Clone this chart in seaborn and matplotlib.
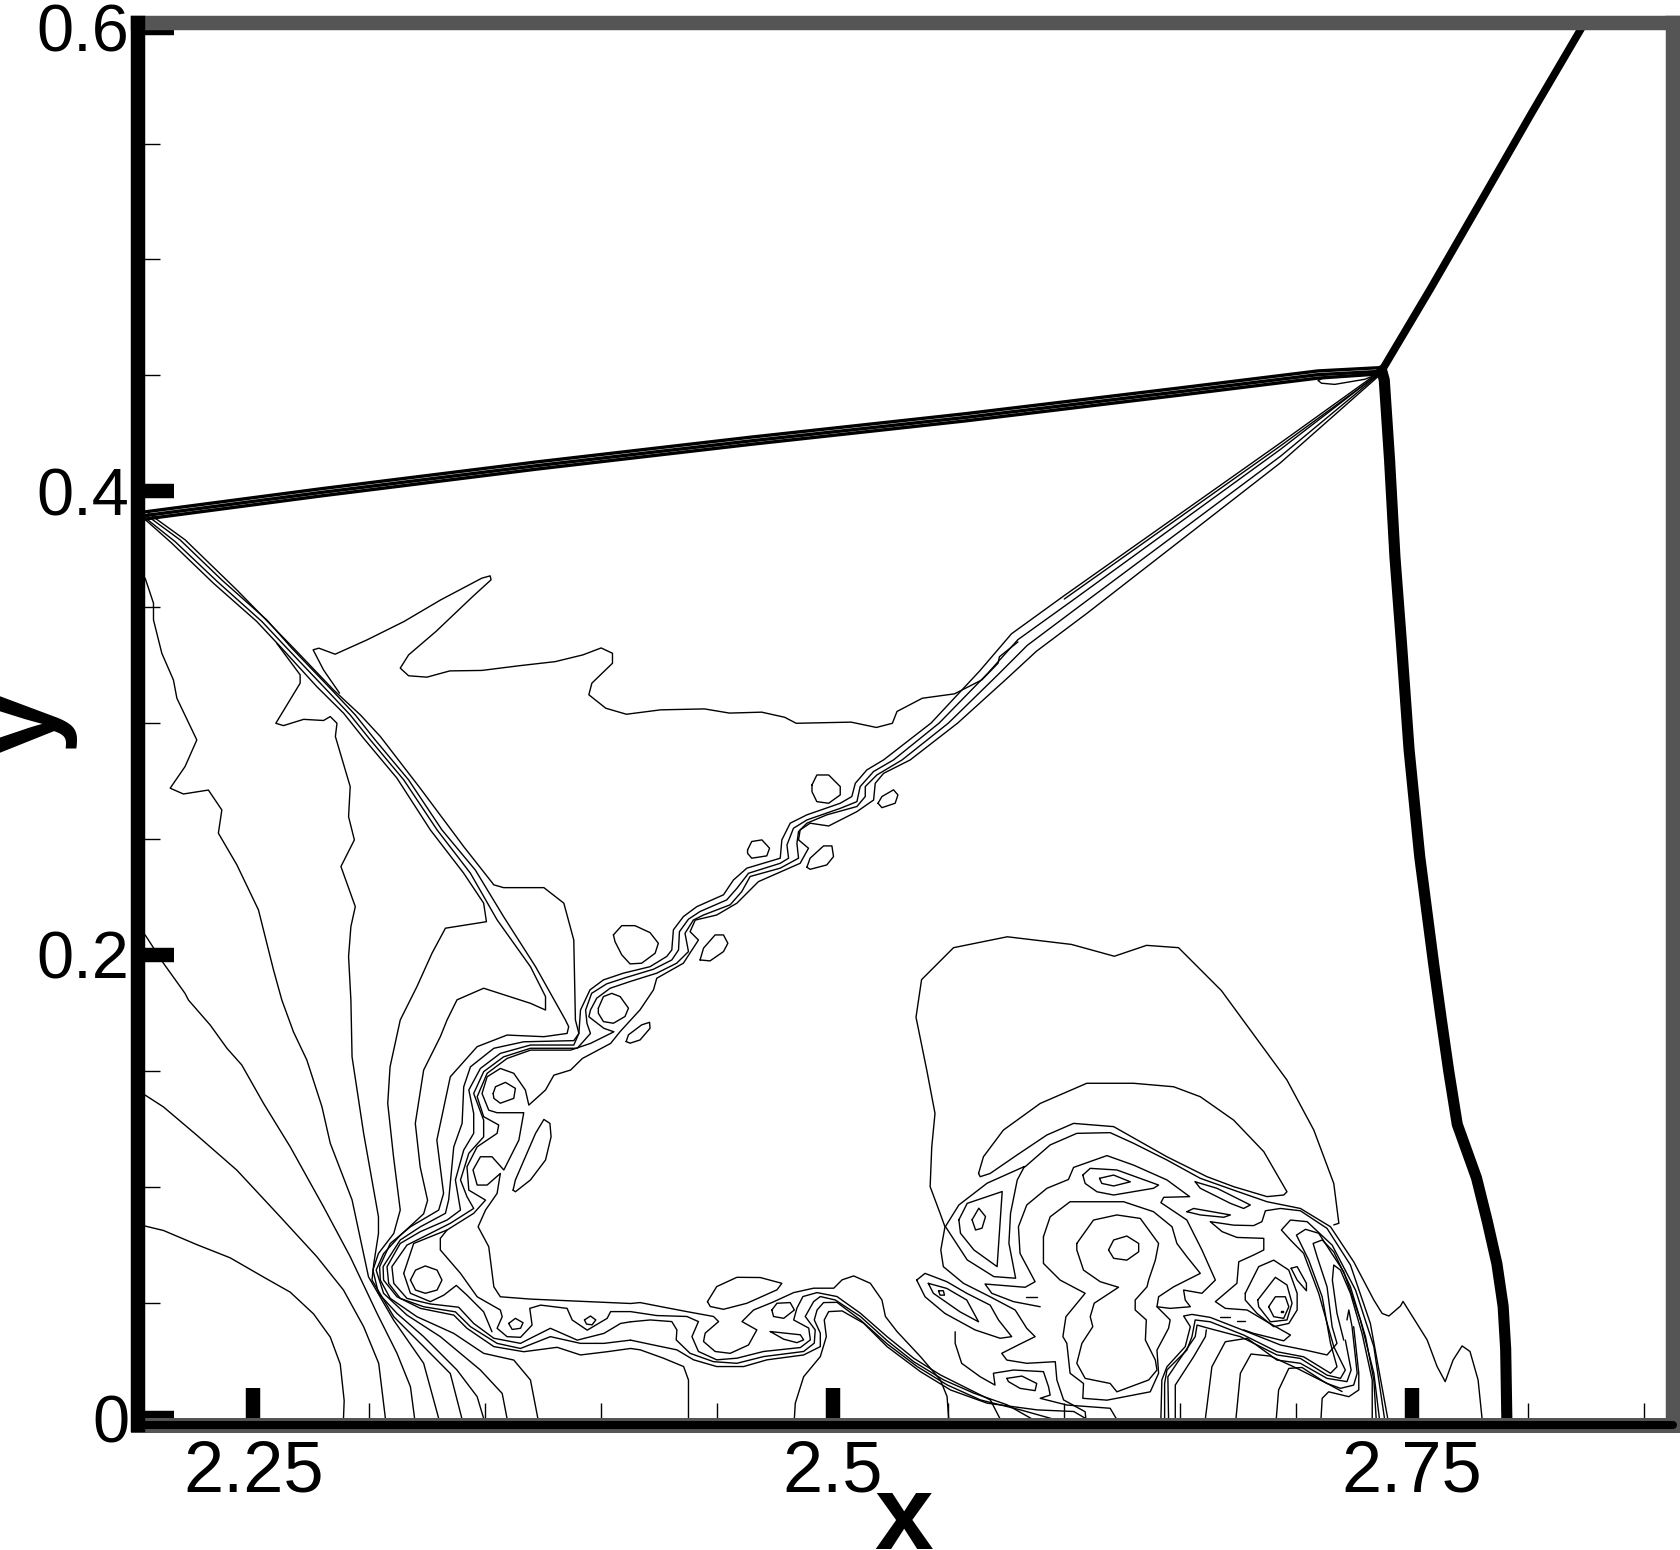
import pandas as pd
import matplotlib
matplotlib.use('Agg')
import matplotlib.pyplot as plt
import seaborn as sns

# contour levels, every curve is a list of (x, y)
x_major = [2.25, 2.5, 2.75]
x_major_labels = ['2.25', '2.5', '2.75']
x_minor = [2.3, 2.35, 2.4, 2.45, 2.55, 2.6, 2.65, 2.7, 2.8, 2.85]
y_major = [0, 0.2, 0.4, 0.6]
y_major_labels = ['0', '0.2', '0.4', '0.6']
y_minor = [0.05, 0.1, 0.15, 0.25, 0.3, 0.35, 0.45, 0.5, 0.55]

# fan at the left
fan_1 = [(2.2033,.083),(2.2112,.0811),(2.2256,.075),(2.24,.0693),(2.2544,.061),(2.2659,.0545),(2.276,.0451),(2.2832,.0351),(2.2875,.0235),(2.2892,.0077),(2.2889,0)]
fan_2 = [(2.2033,.1395),(2.2112,.1344),(2.2256,.1222),(2.2429,.1071),(2.2616,.087),(2.2774,.0698),(2.2889,.0554),(2.2976,.0396),(2.3041,.0238),(2.307,0)]
fan_3 = [(2.2033,.2086),(2.2112,.1964),(2.2205,.1834),(2.222,.1805),(2.2314,.1697),(2.2386,.1597),(2.245,.1525),(2.2544,.1359),(2.2659,.1172),(2.2803,.0913),(2.2918,.0698),(2.3034,.0453),(2.312,.0281),(2.3178,.0137),(2.3196,0)]
fan_4 = [(2.2033,.3625),(2.2069,.3517),(2.2069,.3445),(2.2105,.3301),(2.2155,.3186),(2.217,.3107),(2.2256,.2927),(2.2205,.2812),(2.2141,.2719),(2.2198,.2694),(2.2306,.2711),(2.2364,.2625),(2.2349,.2525),(2.2429,.2388),(2.2522,.2194),(2.2587,.1935),(2.2623,.1805),(2.2673,.1668),(2.2731,.1546),(2.2796,.1345),(2.2832,.1187),(2.2926,.0943),(2.2997,.0611),(2.3105,.0425),(2.3235,.0238),(2.33,0)]
fan_5 = [(2.2601,.3344),(2.2702,.3208),(2.2702,.3172),(2.2597,.2999),(2.263,.2989),(2.2717,.3016),(2.2803,.3011),(2.2832,.3028),(2.2861,.2999),(2.2854,.2942),(2.2918,.2726),(2.2911,.2596),(2.2936,.2496),(2.2878,.2381),(2.294,.2208),(2.2921,.2122),(2.2911,.1993),(2.2921,.1805),(2.2926,.156),(2.2976,.123),(2.304,.087),(2.304,.0798),(2.302,.0669),(2.3012,.0597),(2.3106,.0439),(2.3235,.031),(2.335,.0194),(2.34,0)]

# lines of the left shock that carry on around the pinch
line_a1 = [(2.2015,.3894),(2.2148,.3776),(2.2328,.3603),(2.2515,.3438),(2.2616,.333),(2.2774,.3157),(2.289,.3042),(2.2976,.2934),(2.312,.2762),(2.3264,.2539),(2.3408,.2352),(2.3494,.2223),(2.3506,.2143),(2.3329,.2115),(2.3271,.2007),(2.3206,.1863),(2.3134,.1719),(2.309,.1517),(2.308,.1359),(2.3105,.1129),(2.3134,.0899),(2.3106,.0798),(2.304,.0712),(2.3016,.064),(2.304,.054),(2.312,.0453),(2.3235,.0353),(2.3379,.0209),(2.3466,.0094),(2.3494,0)]
line_a2 = [(2.2026,.3891),(2.2162,.3783),(2.2345,.361),(2.2537,.3438),(2.2645,.3323),(2.2803,.3157),(2.2918,.3035),(2.3005,.2927),(2.3149,.2755),(2.3293,.2539),(2.3437,.2352),(2.3552,.2151),(2.3696,.1949),(2.3761,.182),(2.3761,.1762),(2.3696,.1791),(2.3494,.1856),(2.3379,.1806),(2.3336,.1719),(2.3307,.1647),(2.3235,.1503),(2.3199,.1273),(2.322,.1085),(2.3252,.0941),(2.3235,.0883),(2.3134,.079),(2.3062,.0711),(2.303,.064),(2.3062,.054),(2.3163,.0446),(2.3307,.0353),(2.348,.0209),(2.3574,.0108),(2.3595,0)]
line_a3 = [(2.2037,.3898),(2.2184,.379),(2.2364,.3617),(2.2558,.3445),(2.2666,.3323),(2.2825,.3157),(2.294,.3035),(2.3026,.2927),(2.317,.2755),(2.3314,.2539),(2.3458,.2366),(2.358,.2165),(2.3718,.1949),(2.3847,.1719),(2.3861,.169),(2.3854,.1661),(2.3754,.1647),(2.3595,.1654),(2.3466,.1604),(2.335,.1474),(2.3292,.1201),(2.3321,.0971),(2.33,.0899),(2.3178,.0827),(2.3091,.0755),(2.3045,.0655),(2.3048,.0597),(2.3091,.0518),(2.3206,.0439),(2.3365,.0367),(2.3494,.0281),(2.3624,.0252),(2.3696,.0166),(2.3728,0)]
line_a4 = [(2.2047,.3905),(2.2206,.379),(2.2429,.3574),(2.2674,.3323),(2.2846,.3143),(2.2962,.3035),(2.3048,.2942),(2.322,.2719),(2.3408,.2467),(2.3538,.2302),(2.358,.229),(2.3754,.229),(2.384,.2223),(2.3883,.2064),(2.389,.1719),(2.3905,.1661),(2.3883,.163),(2.3667,.1625),(2.3538,.1597),(2.3437,.1517),(2.3408,.1431),(2.3401,.1273),(2.3365,.1172),(2.3343,.0943),(2.3329,.0885),(2.3221,.0827),(2.3134,.077),(2.306,.0655),(2.3062,.0597),(2.312,.0525),(2.3221,.0475),(2.3365,.0446),(2.3422,.0389),(2.3538,.031),(2.3667,.0288),(2.3811,.0307),(2.3912,.0274),(2.4027,.0288),(2.4128,.0302),(2.417,.0296),(2.427,.026),(2.4357,.0224),(2.4378,.0166),(2.4378,0)]

# wavy slip line, running from the lower arm up to the triple point
wave_1 = [(2.4128,.0338),(2.4013,.0324),(2.3912,.0324),(2.3782,.0353),(2.3653,.0302),(2.3552,.0324),(2.3437,.0396),(2.3372,.046),(2.3235,.0482),(2.3134,.0518),(2.3084,.0583),(2.3077,.0655),(2.3134,.0755),(2.3221,.0806),(2.3336,.0856),(2.3394,.0899),(2.3372,.1029),(2.3408,.1158),(2.3451,.123),(2.3451,.1316),(2.343,.1417),(2.348,.151),(2.3566,.1575),(2.3696,.1611),(2.3883,.1611),(2.3905,.1661),(2.3912,.1762),(2.3953,.1849),(2.4011,.1892),(2.4097,.1921),(2.4212,.1949),(2.4284,.1993),(2.4306,.2021),(2.4313,.2108),(2.4356,.2165),(2.4414,.2208),(2.4529,.2259),(2.4572,.2323),(2.463,.2374),(2.4774,.2417),(2.4781,.2496),(2.4817,.2568),(2.4889,.2604),(2.5033,.2654),(2.5083,.2683),(2.5098,.274),(2.5148,.2798),(2.522,.2841),(2.5425,.3),(2.5635,.3225),(2.5772,.3385),(2.6,.355),(2.6932,.4208),(2.736,.4515)]
wave_2 = [(2.4128,.0417),(2.4085,.041),(2.4013,.0367),(2.3898,.0338),(2.3782,.0389),(2.371,.0353),(2.3653,.0324),(2.3538,.0346),(2.3451,.041),(2.3386,.048),(2.3264,.0494),(2.3163,.0518),(2.3106,.0583),(2.3098,.0655),(2.3163,.0748),(2.3235,.0784),(2.335,.0842),(2.3451,.0906),(2.3422,.0957),(2.3394,.1029),(2.343,.1144),(2.3494,.1215),(2.3494,.1287),(2.3451,.1402),(2.3494,.1496),(2.358,.156),(2.3696,.1597),(2.3898,.1597),(2.3955,.1661),(2.394,.1704),(2.3934,.1762),(2.396,.1834),(2.4025,.1875),(2.4111,.1903),(2.4227,.1938),(2.4306,.1978),(2.4335,.2021),(2.4339,.21),(2.4378,.2154),(2.4428,.2187),(2.4543,.2237),(2.4587,.2287),(2.4637,.2352),(2.4774,.2395),(2.481,.2417),(2.4803,.2474),(2.4831,.2546),(2.4889,.2582),(2.5033,.2632),(2.5105,.2661),(2.5119,.2726),(2.5177,.2791),(2.5263,.2841),(2.546,.3),(2.567,.3215),(2.58,.336),(2.603,.3525),(2.6932,.418),(2.736,.451)]
wave_3 = [(2.3149,.0626),(2.3178,.054),(2.3264,.0504),(2.3322,.0532),(2.3376,.0574),(2.3422,.0532),(2.3494,.046),(2.353,.0374)]
wave_3b = [(2.3149,.0626),(2.3192,.0755),(2.3336,.0813),(2.3451,.0885),(2.3502,.0942),(2.343,.0985),(2.3422,.1086),(2.3466,.1172),(2.3552,.123),(2.3559,.1266),(2.3494,.1302),(2.3466,.1388),(2.3509,.1489),(2.3595,.1553),(2.3696,.1589),(2.3869,.1589),(2.3955,.1618),(2.4056,.1668),(2.4013,.1683),(2.3948,.1733),(2.3955,.1762),(2.3982,.1813),(2.404,.1856),(2.4126,.1885),(2.4241,.1921),(2.4327,.1964),(2.4378,.2014),(2.4363,.2093),(2.4399,.215),(2.4443,.2172),(2.4558,.2216),(2.4608,.2273),(2.4644,.2338),(2.4774,.2374),(2.4853,.2417),(2.4846,.2481),(2.4853,.2532),(2.4889,.2568),(2.4975,.2604),(2.5105,.264),(2.5141,.2683),(2.5141,.2726),(2.5191,.2776),(2.53,.2841),(2.55,.3),(2.571,.3205),(2.584,.3335),(2.606,.35),(2.6932,.415),(2.736,.4505)]
wave_4 = [(2.736,.45),(2.6932,.4122),(2.61,.3475),(2.588,.331),(2.575,.319),(2.554,.3),(2.5335,.2841),(2.522,.2783),(2.5184,.274),(2.5177,.2668),(2.5105,.2618),(2.4983,.2556),(2.4903,.2568),(2.486,.2539),(2.4853,.2496),(2.4896,.246),(2.486,.2395),(2.468,.2316),(2.4587,.2223),(2.45,.2172),(2.4407,.215),(2.4385,.21),(2.4421,.2064),(2.4356,.1964),(2.4241,.1899),(2.4227,.1849),(2.4169,.1763),(2.4083,.1669),(2.4042,.1618),(2.392,.1553),(2.3869,.1503),(2.3797,.1481),(2.3761,.1417),(2.3689,.1352),(2.3674,.1417),(2.3624,.1489),(2.3566,.151),(2.3509,.1474),(2.3487,.1402),(2.3516,.133),(2.3552,.1319),(2.3667,.1319),(2.3646,.1201),(2.3581,.1072),(2.353,.1129),(2.348,.1129),(2.3448,.1072),(2.3466,.1007),(2.3509,.1007),(2.3566,.1057),(2.3552,.0971),(2.3502,.0899),(2.347,.0827),(2.3516,.0741),(2.3538,.0568),(2.3566,.0525),(2.3696,.0515),(2.4128,.0496),(2.4169,.05),(2.4256,.0483),(2.4371,.0461),(2.4486,.044),(2.4508,.0418),(2.445,.0368),(2.4443,.0332),(2.4493,.0289),(2.4558,.0281),(2.4637,.0317),(2.4673,.0382),(2.4609,.0418),(2.4659,.0468),(2.4738,.05),(2.4832,.0543),(2.4918,.0562),(2.5005,.0562),(2.5041,.0598),(2.5091,.0615),(2.5163,.0583),(2.5213,.0511),(2.5228,.044),(2.5278,.0375),(2.5379,.0267),(2.5465,.0166),(2.5494,.0095),(2.5501,0)]
wave_5 = [(2.6,.3535),(2.6932,.4195),(2.736,.4508)]

lobes = [(2.3336,.0813),(2.3307,.0777),(2.3307,.0727),(2.3394,.0626),(2.3466,.0525),(2.3566,.0468),(2.3574,.0439),(2.3552,.0389),(2.3595,.0353),(2.3653,.035),(2.3703,.0403),(2.3693,.0475),(2.374,.0489),(2.3854,.0475),(2.3876,.0425),(2.3941,.0381),(2.4027,.0432),(2.4042,.0461),(2.4128,.0461),(2.4241,.0444),(2.4371,.044),(2.4421,.0418),(2.4393,.0353),(2.4421,.0289),(2.45,.0253),(2.4587,.026),(2.4702,.0289),(2.4861,.0306),(2.4904,.0339),(2.4897,.039),(2.4832,.0425),(2.4846,.0476),(2.4872,.0526),(2.4933,.0543),(2.5019,.0526),(2.512,.0454),(2.5235,.0353),(2.535,.026),(2.5465,.0188),(2.5595,.0123),(2.5681,.008),(2.5722,0)]
ridge_3 = [(2.4128,.0417),(2.4213,.0425),(2.4306,.0418),(2.4328,.0382),(2.4325,.0339),(2.4385,.0281),(2.4486,.0245),(2.4587,.0238),(2.4702,.0267),(2.4875,.0289),(2.4921,.0325),(2.4925,.0382),(2.4882,.044),(2.4918,.0504),(2.4947,.0526),(2.5012,.0511),(2.512,.044),(2.5235,.0336),(2.535,.0245),(2.548,.0166),(2.561,.0109),(2.5753,.0059),(2.5857,0)]
ridge_4 = [(2.4128,.0338),(2.4227,.0317),(2.4328,.0296),(2.44,.0253),(2.45,.0224),(2.4616,.0224),(2.4717,.0253),(2.4875,.0274),(2.4947,.031),(2.4947,.0368),(2.4921,.0425),(2.4933,.0468),(2.4961,.05),(2.5019,.0501),(2.512,.0425),(2.5235,.0322),(2.5365,.0224),(2.5494,.0145),(2.5638,.008),(2.5811,.0037),(2.5943,0)]
ridge_5 = [(2.4835,0),(2.4839,.0066),(2.4875,.018),(2.4947,.0267),(2.4973,.0353),(2.4964,.0425),(2.4983,.0461),(2.5041,.0464),(2.5134,.0411),(2.5235,.031),(2.5379,.0202),(2.5509,.0123),(2.5667,.0066),(2.5883,.0037),(2.6041,.003),(2.6092,0)]

# wedge contour above the slip line
wedge = [(2.2872,.3129),(2.2803,.3229),(2.2758,.3316),(2.2783,.3323),(2.2853,.3297),(2.2991,.3359),(2.315,.3438),(2.3308,.3531),(2.3486,.3625),(2.3522,.3635),(2.3526,.3618),(2.3447,.3546),(2.3288,.3395),(2.317,.3294),(2.3134,.3237),(2.317,.3204),(2.3249,.3198),(2.3348,.3225),(2.3486,.3227),(2.3645,.3247),(2.3803,.3265),(2.3922,.3294),(2.4001,.3324),(2.405,.3301),(2.405,.3258),(2.3961,.3172),(2.3948,.3122),(2.4021,.3064),(2.411,.3038),(2.4258,.3057),(2.4447,.3061),(2.4555,.3043),(2.4694,.3047),(2.4793,.3025),(2.4843,.2999),(2.508,.3004),(2.5189,.2981),(2.5258,.2999),(2.5278,.305),(2.5387,.3107),(2.5526,.3126),(2.5644,.3186),(2.5714,.3258),(2.572,.3286),(2.58,.335)]

# big dome and the bands on the right
dome = [(2.7163,.0835),(2.7185,.0842),(2.7163,.1014),(2.7077,.1244),(2.6961,.146),(2.6678,.1846),(2.6493,.2031),(2.6355,.2041),(2.6216,.1994),(2.6031,.2045),(2.5754,.2078),(2.5522,.2031),(2.5384,.1893),(2.536,.1731),(2.5407,.15),(2.5442,.1316),(2.5428,.1172),(2.5421,.1),(2.5464,.0885),(2.5485,.0827),(2.5467,.0727),(2.5478,.0655),(2.5565,.0583),(2.568,.0525),(2.5788,.0468),(2.5838,.0389),(2.5874,.0353),(2.5809,.0321),(2.573,.0281),(2.5752,.0252),(2.5838,.0238),(2.5961,.0245),(2.5968,.0166),(2.5997,.008),(2.609,.0029),(2.6093,0)]
band_top = [(2.5831,.1086),(2.5939,.118),(2.6054,.123),(2.6198,.1233),(2.6299,.1187),(2.6443,.1115),(2.6587,.1036),(2.6731,.0985),(2.6875,.0935),(2.7019,.0906),(2.7149,.0827),(2.7249,.0676),(2.7336,.0511),(2.7372,.0453),(2.7401,.0442),(2.7451,.0485),(2.7462,.0505),(2.7566,.0339),(2.7609,.0224),(2.7644,.0159),(2.7678,.0252),(2.7717,.0313),(2.7751,.0289),(2.7786,.0166),(2.7803,0)]
band_2 = [(2.7396,0),(2.7321,.041),(2.7235,.0662),(2.7134,.082),(2.7019,.0896),(2.6933,.0906),(2.6868,.0896),(2.6853,.0849),(2.6817,.0832),(2.6731,.0834),(2.663,.0849),(2.6681,.0806),(2.6745,.0781),(2.6861,.0777),(2.6861,.0727),(2.6817,.0705),(2.6753,.0676),(2.6745,.0583),(2.6652,.0504),(2.6695,.0475),(2.6789,.0468),(2.6875,.0417),(2.6976,.036),(2.6947,.0335),(2.6817,.0367),(2.6774,.0382)]
band_b1 = [(2.7346,0),(2.7336,.0166),(2.73,.0353),(2.7235,.0568),(2.7163,.0719),(2.7113,.077),(2.7074,.0755),(2.7091,.0698),(2.7134,.0568),(2.7156,.0396),(2.7177,.0324),(2.7134,.0274),(2.7041,.0295),(2.6933,.0317),(2.6789,.0374),(2.663,.0436),(2.6551,.0449),(2.6515,.0442),(2.6544,.0396),(2.6522,.031),(2.6443,.0223),(2.6421,.0166),(2.6417,0)]
band_b2 = [(2.736,0),(2.7336,.0195),(2.7278,.0425),(2.7206,.0633),(2.7098,.0799),(2.7041,.0816),(2.7002,.0791),(2.7055,.0683),(2.7113,.0525),(2.7149,.0324),(2.7177,.0223),(2.7149,.0195),(2.7033,.0266),(2.6918,.0288),(2.6774,.036),(2.663,.0417),(2.6565,.0425),(2.6551,.0353),(2.6529,.0295),(2.6443,.0209),(2.6433,.0151),(2.6433,0)]
band_b3 = [(2.7382,0),(2.7336,.031),(2.7257,.0554),(2.7156,.0748),(2.7048,.0849),(2.6976,.0856),(2.6937,.0813),(2.6976,.077),(2.7033,.0712),(2.7098,.054),(2.7163,.031),(2.7213,.0209),(2.7192,.0173),(2.7134,.0187),(2.7019,.0259),(2.6918,.0274),(2.676,.0353),(2.6623,.0389),(2.6573,.0403),(2.6565,.0353),(2.6486,.0238),(2.6447,.018),(2.645,0)]
stem_1 = [(2.6479,0),(2.6479,.0144),(2.6558,.0266),(2.6609,.0353),(2.6613,.0382)]
stem_2 = [(2.6609,0),(2.6637,.0223),(2.6695,.0331),(2.6789,.0346),(2.6918,.0252),(2.7019,.0238),(2.7134,.0173),(2.722,.0159),(2.7238,.0209),(2.7213,.0338)]
stem_3 = [(2.6741,0),(2.676,.0195),(2.6806,.0278),(2.689,.0269),(2.7005,.0216),(2.7134,.0151),(2.7192,.013),(2.7249,.0144),(2.7264,.0195),(2.7242,.0396),(2.7228,.0468),(2.722,.0425)]
stem_4 = [(2.6915,0),(2.6925,.0123),(2.6969,.0216),(2.7026,.022),(2.712,.0159),(2.7199,.0116)]
stem_5 = [(2.7108,0),(2.7113,.0087),(2.7141,.0115),(2.7228,.0094),(2.7271,.0123),(2.7271,.0195),(2.7249,.0396)]
inner_arch = [(2.7206,.0338),(2.7177,.0453),(2.7157,.0597),(2.7163,.0662),(2.7192,.064),(2.7235,.054),(2.7285,.0367),(2.7329,.0166),(2.7329,0)]
core_arc = [(2.5896,.0482),(2.5781,.0504),(2.5687,.054),(2.5658,.058),(2.5831,.0566),(2.5874,.059),(2.5809,.0712),(2.5802,.0827),(2.5838,.0921),(2.5925,.0993),(2.6018,.1031),(2.604,.1083),(2.6184,.1134),(2.6299,.1093),(2.6443,.1029),(2.6541,.0957),(2.6429,.0954),(2.6417,.0931),(2.6529,.0856),(2.6594,.0727),(2.6652,.0597),(2.6594,.054),(2.6515,.0554),(2.6522,.0511),(2.6544,.0482),(2.6457,.0475),(2.64,.0482)]
low_fold = [(2.5529,.0374),(2.5529,.0324),(2.5557,.0238),(2.5637,.018),(2.5701,.0144),(2.5694,.0195),(2.5781,.0209),(2.591,.0202),(2.5932,.0137),(2.5939,.0101),(2.5896,.0087),(2.6011,.0058),(2.6198,.0044),(2.6224,0)]

# shock bundles
top_shock_up = [(2.2017,.3909),(2.2794,.4011),(2.3719,.4126),(2.4644,.4233),(2.5569,.4334),(2.6493,.4445),(2.7094,.4519),(2.736,.4533)]
top_shock_mid = [(2.2017,.3893),(2.2794,.3995),(2.3719,.411),(2.4644,.4217),(2.5569,.4318),(2.6493,.4429),(2.7094,.4503),(2.736,.4517)]
top_shock_low = [(2.2017,.3878),(2.2794,.398),(2.3719,.4095),(2.4644,.4202),(2.5569,.4303),(2.6493,.4414),(2.7094,.4488),(2.736,.4506)]
triple_curl = [(2.733,.4496),(2.7297,.4483),(2.7167,.4461),(2.711,.4466),(2.7095,.4478),(2.7135,.4496)]
mach_stem = [(2.737,.452),(2.7381,.448),(2.7404,.4133),(2.7427,.3718),(2.7455,.3348),(2.7488,.2886),(2.7534,.2424),(2.7594,.1962),(2.7626,.173),(2.7659,.15),(2.7696,.1269),(2.7779,.1038),(2.7825,.0853),(2.7867,.0668),(2.7894,.0484),(2.7905,.03),(2.791,0)]
upper_shock = [(2.737,.452),(2.758,.4873),(2.7788,.5233),(2.8019,.5635),(2.8245,.602)]

# closed islands
island_a = [(2.3989,.177),(2.4011,.182),(2.4047,.1834),(2.4083,.182),(2.4119,.177),(2.4104,.1734),(2.4054,.1705),(2.4011,.1712),(2.3989,.1748)]
island_b = [(2.4054,.2086),(2.409,.2126),(2.4147,.2126),(2.4212,.2096),(2.4248,.205),(2.4234,.2007),(2.4176,.1964),(2.4126,.1961),(2.409,.2),(2.4061,.2057)]
island_c = [(2.4428,.1978),(2.4443,.2029),(2.4493,.2086),(2.4529,.2086),(2.4548,.205),(2.4529,.2014),(2.4471,.1974)]
island_d = [(2.4109,.1626),(2.4119,.1655),(2.4176,.1698),(2.421,.1709),(2.4212,.1683),(2.4169,.1633),(2.4126,.1619)]
island_e = [(2.4633,.2453),(2.4651,.2489),(2.4695,.2496),(2.4728,.246),(2.4716,.2427),(2.4651,.2417),(2.4633,.2438)]
island_f = [(2.4889,.2378),(2.4903,.2417),(2.4961,.247),(2.4997,.247),(2.5004,.2424),(2.4975,.2388),(2.4903,.2369)]
island_g = [(2.4911,.2733),(2.4932,.2776),(2.4983,.2776),(2.5033,.2726),(2.5033,.269),(2.4983,.2654),(2.4932,.2661),(2.4911,.2704)]
island_h = [(2.5196,.2654),(2.5213,.2683),(2.5263,.2712),(2.5282,.269),(2.527,.2654),(2.5213,.2635)]
eddy_1 = [(2.3178,.0597),(2.32,.064),(2.3242,.0658),(2.3293,.064),(2.3314,.0597),(2.3293,.0554),(2.3242,.054),(2.32,.0554)]
eddy_2 = [(2.3602,.041),(2.3631,.0432),(2.3664,.0413),(2.3653,.0389),(2.3617,.0384)]
eddy_3 = [(2.3929,.0425),(2.3955,.0442),(2.3978,.0425),(2.3962,.0404),(2.3938,.0407)]
eddy_long = [(2.3621,.0985),(2.3631,.1029),(2.3718,.123),(2.3754,.129),(2.378,.1273),(2.3785,.1215),(2.3761,.1115),(2.3696,.1029),(2.3631,.0978)]
eddy_4 = [(2.3535,.1402),(2.3545,.1431),(2.3588,.145),(2.3631,.1424),(2.3624,.1381),(2.3566,.136),(2.3538,.1381)]
blob_1 = [(2.446,.0504),(2.45,.0569),(2.4587,.0609),(2.4688,.0608),(2.4781,.0583),(2.476,.0555),(2.463,.0497),(2.4529,.0471),(2.4472,.0483)]
blob_2 = [(2.4738,.0468),(2.476,.0497),(2.4817,.05),(2.4835,.0468),(2.4789,.0432),(2.4745,.044)]
blob_3 = [(2.4731,.0375),(2.4861,.0361),(2.4875,.0339),(2.4846,.0327),(2.4789,.0342)]
tri_1 = [(2.5828,.1087),(2.5797,.1029),(2.5768,.0885),(2.5761,.0756),(2.579,.0605),(2.5696,.0612),(2.5581,.0684),(2.5487,.0828),(2.5545,.0921),(2.5667,.1015)]
tri_2 = [(2.5545,.0857),(2.5581,.0928),(2.5732,.0979),(2.571,.0655),(2.561,.0727),(2.5552,.0799)]
tri_3 = [(2.5602,.0857),(2.5631,.0907),(2.566,.0871),(2.5645,.0821),(2.5617,.0813)]
arch = [(2.563,.1057),(2.5651,.1129),(2.5737,.1244),(2.5896,.1359),(2.6097,.1446),(2.6299,.1446),(2.6472,.1431),(2.6587,.1388),(2.6731,.1287),(2.6861,.1151),(2.6961,.0978),(2.6947,.0964),(2.6875,.0957),(2.6731,.1),(2.6616,.1043),(2.6443,.1129),(2.6213,.1259),(2.604,.1273),(2.5925,.1223),(2.5795,.1136),(2.568,.1057),(2.5637,.1043)]
ring_a = [(2.591,.0784),(2.5939,.087),(2.6025,.0935),(2.6256,.0935),(2.6385,.0892),(2.6465,.0827),(2.6486,.0755),(2.6529,.0698),(2.6587,.0626),(2.6472,.0568),(2.6407,.0525),(2.64,.0482),(2.6457,.0425),(2.645,.0389),(2.64,.0295),(2.6407,.0195),(2.6371,.0115),(2.6184,.0079),(2.608,.0087),(2.6083,.0151),(2.6025,.0195),(2.6011,.0324),(2.5994,.0353),(2.6007,.0439),(2.609,.054),(2.5982,.0597),(2.591,.0669)]
ring_b = [(2.6054,.0755),(2.6126,.0856),(2.6227,.0878),(2.6328,.0863),(2.6407,.0755),(2.6393,.0683),(2.6364,.0597),(2.6357,.0568),(2.6306,.0511),(2.6306,.0468),(2.6354,.0425),(2.635,.0338),(2.6393,.0252),(2.64,.0209),(2.6364,.0166),(2.6227,.0115),(2.6198,.0151),(2.609,.0173),(2.6054,.0238),(2.6076,.0324),(2.6123,.0396),(2.6112,.0439),(2.6129,.0497),(2.6234,.0566),(2.6155,.059),(2.6083,.064),(2.6054,.0727)]
ring_c = [(2.6191,.0727),(2.6213,.077),(2.627,.0787),(2.6321,.0755),(2.6321,.0719),(2.627,.0683),(2.6213,.0691)]
lens_up = [(2.608,.105),(2.6112,.1079),(2.6227,.1072),(2.6407,.1007),(2.6385,.0993),(2.6213,.0964),(2.6141,.0978),(2.609,.1014)]
lens_up_small = [(2.6152,.1036),(2.6213,.105),(2.6285,.1021),(2.6213,.1003),(2.6162,.1014)]
sliver_1 = [(2.6565,.1021),(2.6659,.0993),(2.6803,.0921),(2.6774,.0906),(2.6717,.0928),(2.6587,.0993)]
sliver_2 = [(2.6529,.0892),(2.6558,.0906),(2.6717,.0878),(2.6688,.0868),(2.6587,.0878)]
sliver_3 = [(2.6979,.0648),(2.7005,.0655),(2.7045,.0583),(2.7045,.0551),(2.7005,.0597)]
lens_low = [(2.5363,.0597),(2.5399,.0626),(2.5493,.059),(2.5579,.054),(2.568,.0489),(2.5716,.0425),(2.5773,.0353),(2.5723,.0346),(2.5615,.0382),(2.5485,.0453),(2.5399,.0525)]
lens_low_in = [(2.5413,.0583),(2.5493,.0561),(2.5579,.0511),(2.563,.0417),(2.555,.046),(2.5435,.054)]
lens_tiny = [(2.5457,.0551),(2.5478,.0551),(2.5483,.0532),(2.5464,.0532)]
lens_foot = [(2.5752,.0173),(2.5817,.0183),(2.5881,.0151),(2.5874,.012),(2.5809,.013),(2.5759,.0159)]
eye_1 = [(2.6781,.054),(2.6839,.0655),(2.6904,.0683),(2.6969,.064),(2.7005,.054),(2.7005,.0468),(2.6969,.041),(2.6904,.0396),(2.6832,.0453),(2.6781,.0511)]
eye_2 = [(2.6835,.0511),(2.6911,.0609),(2.6961,.0576),(2.6983,.0497),(2.6961,.0425),(2.689,.0417),(2.6839,.0482)]
eye_3 = [(2.6882,.0482),(2.6911,.0525),(2.6954,.0525),(2.6969,.0482),(2.6947,.0432),(2.6904,.0439)]
eye_dot = [(2.6935,.0458),(2.6942,.0458),(2.6942,.0465),(2.6935,.0465)]
dash_1 = [(2.5835,.0522),(2.5881,.0522)]
dash_2 = [(2.6673,.0439),(2.6717,.0439)]
dash_3 = [(2.6745,.0422),(2.6781,.0422)]

open_curves = [fan_1, fan_2, fan_3, fan_4, fan_5, line_a1, line_a2, line_a3, line_a4,
               wave_1, wave_2, wave_3, wave_3b, wave_4, wave_5, lobes, ridge_3, ridge_4, ridge_5,
               wedge, dome, band_top, band_2, band_b1, band_b2, band_b3,
               stem_1, stem_2, stem_3, stem_4, stem_5, inner_arch, core_arc, low_fold,
               triple_curl, dash_1, dash_2, dash_3]
closed_curves = [island_a, island_b, island_c, island_d, island_e, island_f, island_g, island_h,
                 eddy_1, eddy_2, eddy_3, eddy_long, eddy_4, blob_1, blob_2, blob_3,
                 tri_1, tri_2, tri_3, arch, ring_a, ring_b, ring_c, lens_up, lens_up_small,
                 sliver_1, sliver_2, sliver_3, lens_low, lens_low_in, lens_tiny, lens_foot,
                 eye_1, eye_2, eye_3, eye_dot]
bundle_curves = [top_shock_up, top_shock_mid, top_shock_low]
heavy_curves = [mach_stem]
medium_curves = [upper_shock]


def to_frame(curves, closed=False):
    rows = []
    for i, curve in enumerate(curves):
        pts = curve + curve[:1] if closed else curve
        for px, py in pts:
            rows.append({'curve': i, 'x': px, 'y': py})
    return pd.DataFrame(rows)


thin_df = pd.concat([to_frame(open_curves),
                     to_frame(closed_curves, closed=True).assign(curve=lambda d: d['curve'] + 1000)])

sns.set_theme(style='white', rc={'text.color': 'black', 'axes.labelcolor': 'black',
                                 'xtick.color': 'black', 'ytick.color': 'black',
                                 'lines.solid_joinstyle': 'round'})
plt.rcParams['font.family'] = ['Liberation Sans', 'DejaVu Sans']

fig = plt.figure(figsize=(16.8, 15.5), dpi=100)
ax = fig.add_axes([137.5 / 1680, 1 - 1424.5 / 1550, 1535 / 1680, 1401.5 / 1550])

for frame, width in [(thin_df, 1.0), (to_frame(bundle_curves), 2.4),
                     (to_frame(medium_curves), 5.5), (to_frame(heavy_curves), 8.0)]:
    sns.lineplot(data=frame, x='x', y='y', units='curve', estimator=None, sort=False,
                 color='black', linewidth=width, legend=False, ax=ax)

ax.set_xlim(2.2, 2.8625)
ax.set_ylim(-0.0026, 0.602)

ax.set_xticks(x_major)
ax.set_xticklabels(x_major_labels, fontsize=52)
ax.set_xticks(x_minor, minor=True)
ax.set_yticks(y_major)
ax.set_yticklabels(y_major_labels, fontsize=48)
ax.set_yticks(y_minor, minor=True)
ax.tick_params(axis='x', which='major', direction='in', length=27, width=10.4, color='black', pad=11, bottom=True)
ax.tick_params(axis='y', which='major', direction='in', length=26, width=10.4, color='black', pad=6, left=True)
ax.tick_params(axis='both', which='minor', direction='in', length=16, width=1.0, color='black', bottom=True, left=True)

for side in ['top', 'right']:
    ax.spines[side].set_color('#555555')
    ax.spines[side].set_linewidth(10.4)
ax.spines['bottom'].set_color('#555555')
ax.spines['bottom'].set_linewidth(10.8)
ax.spines['left'].set_color('black')
ax.spines['left'].set_linewidth(10.4)
ax.spines['left'].set_zorder(3)
ax.axhline(-0.0026, color='black', linewidth=5.8, clip_on=False, zorder=3)

ax.set_xlabel('x', fontsize=76, fontweight='bold', va='baseline')
ax.xaxis.set_label_coords(904 / 1680, 1 - 1549 / 1550, transform=fig.transFigure)
ax.set_ylabel('y', fontsize=76, fontweight='bold', va='baseline')
ax.yaxis.set_label_coords(55 / 1680, 1 - 724 / 1550, transform=fig.transFigure)

fig.savefig('out.png', dpi=100)
